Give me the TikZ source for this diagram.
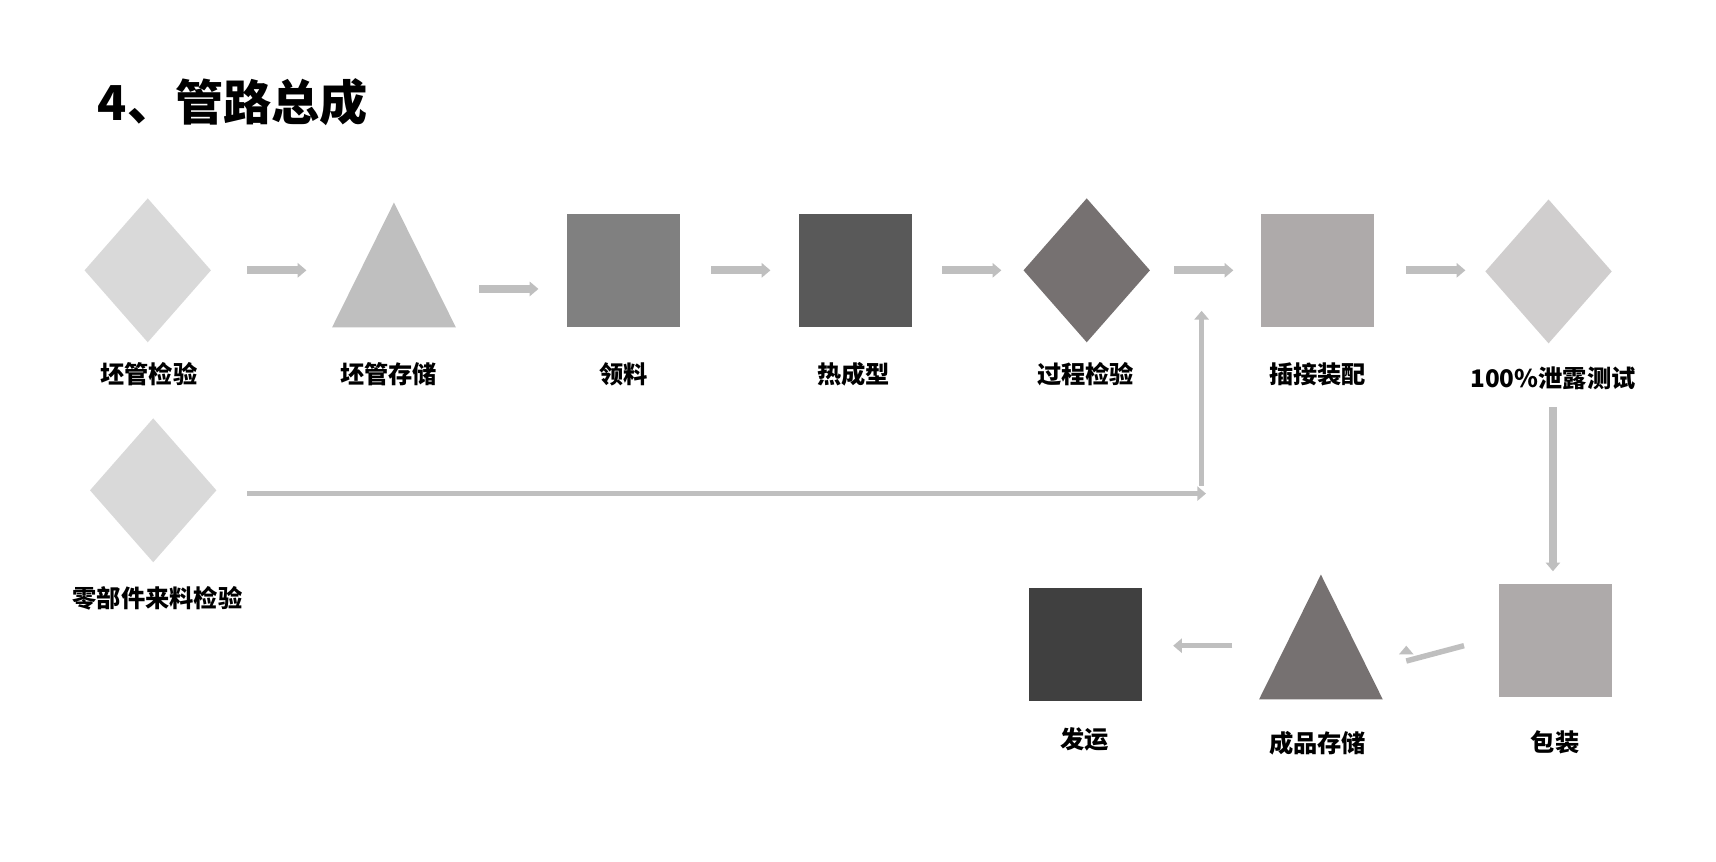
\documentclass[tikz,border=0pt]{standalone}
\usepackage{fontspec}
\setmainfont{Noto Sans CJK SC}
\usetikzlibrary{shapes.geometric, positioning, arrows.meta}
\tikzset{
x=0.01cm, y=-0.01cm,
flow/.style={line width=0.07cm, draw=gray!50, -{Triangle[length=0.08cm, width=0.13cm]}}, % the grey bar arrows
thin flow/.style={flow, line width=0.05cm},
rhomb/.style={diamond, inner sep=0, minimum width=1.16cm, minimum height=1.32cm, shape aspect=0.88},
tri/.style={isosceles triangle, isosceles triangle stretches, shape border rotate=90, inner sep=0, minimum width=1.13cm, minimum height=1.14cm},
box/.style={rectangle, inner sep=0, minimum size=1.03cm},
label/.style={font=\fontsize{6.3}{7}\selectfont\bfseries},
}
\definecolor{c1}{HTML}{D9D9D9}
\definecolor{c2}{HTML}{BFBFBF}
\definecolor{c3}{HTML}{808080}
\definecolor{c4}{HTML}{595959}
\definecolor{c5}{HTML}{767171}
\definecolor{c6}{HTML}{AEAAAA}
\definecolor{c7}{HTML}{D0CECE}
\definecolor{c8}{HTML}{404040}
\begin{document}
\begin{tikzpicture}
\useasboundingbox (0,0) rectangle (1568,787);

\node[anchor=west, font=\fontsize{12.5}{14}\selectfont\bfseries] at (77,93) (title) {4、管路总成};

% first row
\node[rhomb, fill=c1] at (135,247) (s1) {};
\node[tri, fill=c2] at (360,264) (s2) {};
\node[box, fill=c3] at (570,247) (s3) {};
\node[box, fill=c4] at (782,247) (s4) {};
\node[rhomb, fill=c5] at (993,247) (s5) {};
\node[box, fill=c6] at (1204,247) (s6) {};
\node[rhomb, fill=c7] at (1415,248) (s7) {};

\node[label] at (136,342) (l1) {坯管检验};
\node[label] at (355,342) (l2) {坯管存储};
\node[label] at (570,342) (l3) {领料};
\node[label] at (780,342) (l4) {热成型};
\node[label] at (992,342) (l5) {过程检验};
\node[label] at (1204,342) (l6) {插接装配};
\node[label] at (1419,346) (l7) {100\%泄露测试};

% second row
\node[rhomb, fill=c1] at (140,448) (p1) {};
\node[label] at (144,547) (m1) {零部件来料检验};

% third row
\node[box, fill=c6] at (1421,585) (b1) {};
\node[tri, fill=c5] at (1207,604) (b2) {};
\node[box, fill=c8] at (992,589) (b3) {};
\node[label] at (1421,678) (k1) {包装};
\node[label] at (1204,679) (k2) {成品存储};
\node[label] at (991,676) (k3) {发运};

% arrows
\foreach \a/\xa/\xb in {s1/226/280, s2/438/492, s3/650/704, s4/861/915, s5/1073/1127, s6/1285/1339}
  \draw[flow] (\a.center -| \xa,0) -- (\a.center -| \xb,0);
\draw[thin flow] (p1.center -| 226,0) ++(0,3) -- (1102,451);
\draw[thin flow] (1098,444) -- (1098,284);
\draw[flow, line width=0.08cm] (l7.south |- 0,372) -- (l7.south |- 0,522);
\draw[thin flow] (b1.west |- 0,590) ++(-31,0) -- (b2.center -| 1285,0) ++(0,-14);
\draw[thin flow] (1126,590) -- (1072,590);
\end{tikzpicture}
\end{document}
